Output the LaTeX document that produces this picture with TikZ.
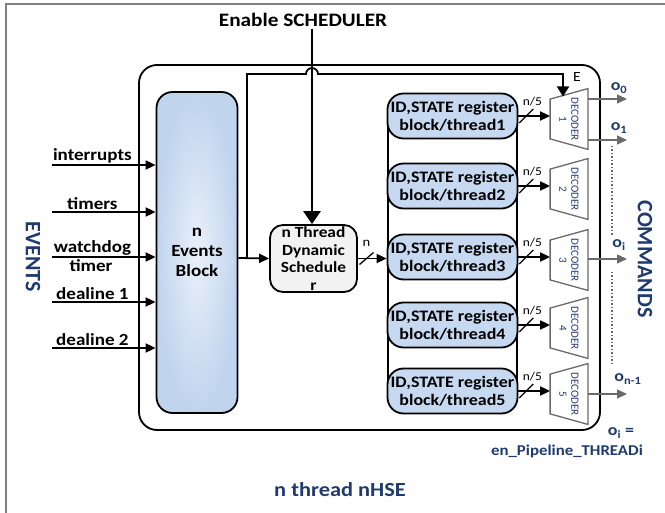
\documentclass[tikz,border=0pt]{standalone}
\usepackage{fontspec}
\setmainfont{Carlito}[FakeStretch=1.12]
\newfontfamily\upfont{Carlito}
\usetikzlibrary{arrows.meta,calc}

\definecolor{navy}{HTML}{1F3A6E}
\definecolor{regblue}{HTML}{C6D9F1}
\definecolor{evblue}{HTML}{C0D4EE}
\definecolor{evlight}{HTML}{EAF0F9}
\definecolor{schgray}{HTML}{F2F2F2}
\definecolor{decgray}{HTML}{6A6A6A}
\definecolor{framegray}{HTML}{808080}

\begin{document}
\begin{tikzpicture}[x=1pt, y=-1pt, line width=1.8pt,
  >={Triangle[length=10pt,width=9pt]},
  lbl/.style={font=\fontsize{17}{19}\selectfont\bfseries, inner sep=1pt},
  thin lbl/.style={font=\fontsize{12}{13}\selectfont, inner sep=1pt},
  blue lbl/.style={font=\fontsize{16}{18}\selectfont\bfseries, text=navy, inner sep=1pt},
  side/.style={font=\upfont\fontsize{22}{24}\selectfont\bfseries, text=navy, rotate=-90},
  hsebox/.style={draw, rounded corners=18pt, minimum width=461pt, minimum height=365pt},
  evblock/.style={draw, rounded corners=16pt, minimum width=81pt, minimum height=321pt,
    shading=radial, inner color=evlight, outer color=evblue, align=center,
    font=\fontsize{17}{20}\selectfont\bfseries},
  sched/.style={draw, fill=schgray, rounded corners=13pt, minimum width=87pt,
    minimum height=67pt, inner sep=0pt, align=center,
    font=\fontsize{15.5}{17.5}\selectfont\bfseries},
  reg/.style={draw, fill=regblue, rounded corners=16pt, minimum width=130pt,
    minimum height=45pt, inner sep=0pt, align=center,
    font=\fontsize{16}{18}\selectfont\bfseries},
  decbox/.style={minimum width=36pt, minimum height=59pt, inner sep=0pt},
  decline/.style={draw=decgray, line width=1.3pt, fill=white},
  dectext/.style={rotate=-90, align=center, text=navy, inner sep=0pt,
    font=\upfont\fontsize{11}{12}\selectfont},
  outarr/.style={draw=decgray, line width=1.3pt, -{Triangle[length=10pt,width=9pt]}},
  slash/.style={line width=1.3pt}]

  \useasboundingbox (0,0) rectangle (665,513);
  \draw[framegray, line width=1.5pt] (6,513) -- (6,4) -- (665,4);

  % nHSE outline, events block, scheduler
  \node[hsebox] (hse) at (369.5,247.5) {};
  \node[evblock] (ev) at (197,252.5) {n\\Events\\Block};
  \node[sched] (sch) at (313.5,258.5) {n Thread\\Dynamic\\Schedule\\r};

  % event inputs
  \foreach \y/\t [count=\k] in {165/interrupts, 212/timers, 257/watchdog, 302/dealine 1, 348/dealine 2} {
    \coordinate (in\k) at (52,\y);
    \draw[->] (in\k) -- (in\k -| ev.west) node[pos=0.39, above, lbl] {\t};
  }
  \node[lbl, below] (tmr) at (91,258) {timer};
  \node[side] (events) at (33,257) {EVENTS};

  % enable line and feedback to decoder 1
  \node[lbl, font=\fontsize{19}{21}\selectfont\bfseries] (en) at (303,20) {Enable SCHEDULER};
  \coordinate (fb) at (247,258);
  \coordinate (hop) at (312,74);
  \draw[->] (ev.east |- fb) -- (sch.west);
  \draw[line width=2.8pt, -{Triangle[length=13pt,width=17pt]}] (hop |- en.south) -- (hop |- sch.north);

  % register stack behind the thread blocks
  \draw (388,116) rectangle (517,391);

  % thread registers and decoders
  \foreach \i/\y in {1/116, 2/186, 3/257, 4/325, 5/391} {
    \node[reg] (reg\i) at (452.5,\y) {ID,STATE register\\block/thread\i};
    \node[decbox] (dec\i) at (569,\y+3) {};
    \draw[decline] ([yshift=-10.5pt]dec\i.north west) -- (dec\i.north east)
      -- (dec\i.south east) -- ([yshift=10.5pt]dec\i.south west) -- cycle;
    \node[dectext] at (dec\i.center) {DECODER\\\i};
    \draw[->] (reg\i.east) -- coordinate[pos=0.25] (s\i) (reg\i.east -| dec\i.west);
    \draw[slash] ($(s\i)+(-7,7)$) -- ($(s\i)+(7,-7)$);
    \node[thin lbl] at ($(s\i)+(6,-14)$) {n/5};
  }

  \coordinate (etip) at (563,96.5);
  \draw[->, -{Triangle[length=10pt,width=12pt]}] (fb) |- ([xshift=-6pt]hop)
    arc[start angle=180, end angle=0, radius=6pt] -| (etip);
  \node[thin lbl, font=\fontsize{14}{15}\selectfont] (elbl) at (577,77) {E};

  % scheduler to registers
  \draw[->] (sch.east) -- coordinate[pos=0.3] (sn) (sch.east -| reg3.west);
  \draw[slash] ($(sn)+(-7,6)$) -- ($(sn)+(7,-6)$);
  \node[thin lbl, font=\fontsize{13}{14}\selectfont] at ($(sn)+(0,-15)$) {n};

  % command outputs
  \coordinate (o0) at (627,99);
  \coordinate (o1) at (627,140);
  \coordinate (oi) at (627,259);
  \coordinate (on) at (627,394);
  \draw[outarr] (o0 -| dec1.east) -- (o0);
  \draw[outarr] (o1 -| dec1.east) -- (o1);
  \draw[outarr] (oi -| dec3.east) -- (oi);
  \draw[outarr] (on -| dec5.east) -- (on);
  \draw[decgray, line width=1.5pt, dotted] (612,146) -- (612,236);
  \draw[decgray, line width=1.5pt, dotted] (612,272) -- (612,364);

  \node[blue lbl] at (619,88) {o\textsubscript{0}};
  \node[blue lbl] at (619,128) {o\textsubscript{1}};
  \node[blue lbl] at (619,245) {o\textsubscript{i}};
  \node[blue lbl] at (628,379) {o\textsubscript{n-1}};
  \node[blue lbl] at (621,433) {o\textsubscript{i} =};
  \node[blue lbl, font=\fontsize{15}{17}\selectfont\bfseries] at (567,451) {en\_Pipeline\_THREADi};
  \node[side] (cmds) at (645,259) {COMMANDS};

  \node[blue lbl, font=\fontsize{20}{22}\selectfont\bfseries] (title) at (340,490) {n thread nHSE};
\end{tikzpicture}
\end{document}
